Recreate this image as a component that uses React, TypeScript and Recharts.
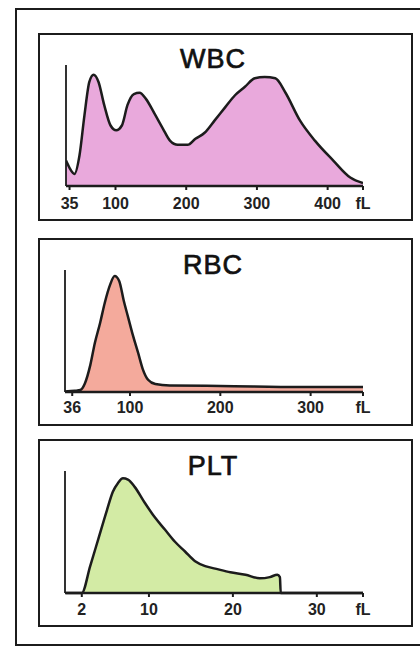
import React from 'react';
import { AreaChart, Area, XAxis, YAxis, ReferenceLine } from 'recharts';

// WBC histogram (volume fL -> relative count)
const wbcSize = [30, 35, 42, 49, 56, 63, 69, 76, 84, 93, 101, 109, 117, 126, 134, 143, 155, 167, 177, 188, 202, 213, 226, 240, 255, 269, 283, 297, 311, 326, 340, 361, 382, 408, 432, 450];
const wbcCount = [21, 15, 10, 25, 58, 86, 92, 86, 67, 50, 46, 50, 67, 76, 77, 72, 60, 47.5, 37.5, 34, 34, 39, 44, 54, 65, 75, 82, 89, 90, 89, 77.5, 54, 37.5, 21, 7, 2.5];
const wbcTicks = [35, 100, 200, 300, 400, 450];
const wbcTickLabels = ['35', '100', '200', '300', '400', 'fL'];

// RBC histogram
const rbcSize = [28, 39, 45, 50, 56, 61, 67, 72, 78, 83, 88, 93, 98, 103, 109, 114, 120, 128, 144, 200, 288, 358];
const rbcCount = [0.5, 1, 1.6, 7, 22, 40, 57, 73, 88, 95, 91, 75, 61, 47, 32, 19, 10, 6.5, 5.3, 5, 4, 4];
const rbcTicks = [36, 100, 200, 300, 358];
const rbcTickLabels = ['36', '100', '200', '300', 'fL'];

// PLT histogram
const pltSize = [0.1, 2.0, 3.0, 4.0, 5.0, 5.7, 6.3, 6.9, 7.5, 8.3, 9.5, 10.7, 11.9, 13.1, 14.3, 15.5, 16.7, 17.9, 19.7, 21.5, 23.2, 24.4, 25.3, 25.6, 25.7, 35.5];
const pltCount = [0, 0, 22, 45, 68, 83, 90, 94, 93, 87, 74, 62, 52, 42, 34, 26, 22, 20, 17, 15, 12, 13, 15, 13, 0, 0];
const pltTicks = [2, 10, 20, 30, 35.5];
const pltTickLabels = ['2', '10', '20', '30', 'fL'];

const zip = (xs: number[], ys: number[]) => xs.map((x, i) => ({ v: x, c: ys[i] }));

const FONT = '"Liberation Sans", Arial, Helvetica, sans-serif';
const INK = '#1c1c1c';

type PanelProps = {
  title: string;
  data: { v: number; c: number }[];
  domain: [number, number];
  ticks: number[];
  labels: string[];
  fill: string;
  left: number;
  top: number;
  width: number;
  height: number;
  titleTop: number;
  margin: { top: number; right: number; bottom: number; left: number };
  tickMargin: number;
};

function Panel(p: PanelProps) {
  return (
    <>
      <div
        style={{
          position: 'absolute',
          left: p.left,
          top: p.top,
          width: p.width,
          height: p.height,
          border: `2px solid ${INK}`,
          boxSizing: 'border-box',
        }}
      />
      <div
        style={{
          position: 'absolute',
          left: 113,
          top: p.titleTop,
          width: 200,
          textAlign: 'center',
          fontFamily: FONT,
          fontSize: 27,
          lineHeight: '27px',
          letterSpacing: 1,
          color: '#111',
          WebkitTextStroke: '0.7px #111',
        }}
      >
        {p.title}
      </div>
      <div style={{ position: 'absolute', left: p.left, top: p.top }}>
        <AreaChart width={p.width} height={p.height} data={p.data} margin={p.margin}>
          <XAxis
            dataKey="v"
            type="number"
            domain={p.domain}
            ticks={p.ticks}
            allowDataOverflow
            interval={0}
            height={28}
            tickSize={4}
            tickMargin={p.tickMargin}
            tickFormatter={(val: number) => {
              const i = p.ticks.indexOf(val);
              return i >= 0 ? p.labels[i] : String(val);
            }}
            axisLine={{ stroke: INK, strokeWidth: 2.5 }}
            tickLine={{ stroke: INK, strokeWidth: 2 }}
            tick={{ fill: '#222', fontSize: 16, fontWeight: 'bold', fontFamily: FONT }}
          />
          <YAxis type="number" domain={[0, 100]} hide />
          <ReferenceLine x={p.domain[0]} stroke={INK} strokeWidth={1.8} ifOverflow="visible" />
          <Area
            dataKey="c"
            type="monotone"
            stroke={INK}
            strokeWidth={2.5}
            fill={p.fill}
            fillOpacity={1}
            dot={false}
            activeDot={false}
            isAnimationActive={false}
          />
        </AreaChart>
      </div>
    </>
  );
}

export default function App() {
  return (
    <div
      style={{
        position: 'absolute',
        left: 0,
        top: 0,
        width: 420,
        height: 649,
        overflow: 'hidden',
        background: '#fff',
      }}
    >
      <div
        style={{
          position: 'absolute',
          left: 15,
          top: 8,
          width: 430,
          height: 638,
          border: `2px solid ${INK}`,
          boxSizing: 'border-box',
        }}
      />
      <Panel
        title="WBC"
        data={zip(wbcSize, wbcCount)}
        domain={[30, 450]}
        ticks={wbcTicks}
        labels={wbcTickLabels}
        fill="#e9a9dc"
        left={38}
        top={33}
        width={375}
        height={188}
        titleTop={46}
        margin={{ top: 32, right: 50, bottom: 7, left: 28 }}
        tickMargin={8}
      />
      <Panel
        title="RBC"
        data={zip(rbcSize, rbcCount)}
        domain={[28, 358]}
        ticks={rbcTicks}
        labels={rbcTickLabels}
        fill="#f4aa9c"
        left={38}
        top={238}
        width={375}
        height={188}
        titleTop={252}
        margin={{ top: 32, right: 50, bottom: 6, left: 27 }}
        tickMargin={6}
      />
      <Panel
        title="PLT"
        data={zip(pltSize, pltCount)}
        domain={[0, 35.5]}
        ticks={pltTicks}
        labels={pltTickLabels}
        fill="#d3eba5"
        left={38}
        top={439}
        width={375}
        height={188}
        titleTop={453}
        margin={{ top: 32, right: 50, bottom: 6, left: 27 }}
        tickMargin={7}
      />
    </div>
  );
}
